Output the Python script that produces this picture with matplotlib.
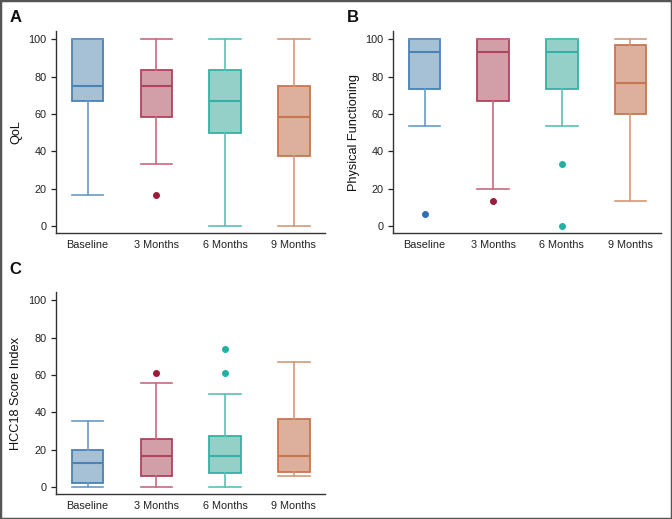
import matplotlib
matplotlib.use("Agg")
import matplotlib.pyplot as plt
from matplotlib.patches import Rectangle

plt.rcParams['font.family'] = ['Liberation Sans', 'DejaVu Sans']

categories = ["Baseline", "3 Months", "6 Months", "9 Months"]

# (whislo, q1, med, q3, whishi, outliers)
qol = [
    (16.7, 66.7, 75.0, 100.0, 100.0, []),
    (33.3, 58.3, 75.0, 83.3, 100.0, [16.7]),
    (0.0, 50.0, 66.7, 83.3, 100.0, []),
    (0.0, 37.5, 58.3, 75.0, 100.0, []),
]
physical = [
    (53.3, 73.3, 93.3, 100.0, 100.0, [6.7]),
    (20.0, 66.7, 93.3, 100.0, 100.0, [13.3]),
    (53.3, 73.3, 93.3, 100.0, 100.0, [33.3, 0.0]),
    (13.3, 60.0, 76.7, 96.7, 100.0, []),
]
hcc18 = [
    (0.0, 2.3, 13.0, 20.0, 35.4, []),
    (0.0, 6.0, 16.7, 25.6, 55.6, [61.1]),
    (0.0, 7.8, 16.7, 27.3, 50.0, [61.1, 74.0]),
    (5.8, 7.9, 16.7, 36.6, 66.7, []),
]

fills = ["#a6c1d5", "#d29ea7", "#94cfc8", "#dcb09c"]
edges = ["#4a82b5", "#b0435f", "#35b0a4", "#c6764f"]
whisk = ["#6a9bc6", "#c86a80", "#5cc0b5", "#d4987a"]
flier = ["#2f6fb0", "#9b1b3b", "#22b0a5", "#c6764f"]

fig = plt.figure(figsize=(6.72, 5.19), dpi=100)
fig.patches.append(Rectangle((0, 0), 1, 1, transform=fig.transFigure,
                             fill=False, edgecolor="#555555", linewidth=2.5, zorder=10))

def draw(ax, data, ylabel, label, label_y):
    for i, (lo, q1, med, q3, hi, fl) in enumerate(data):
        st = [dict(whislo=lo, q1=q1, med=med, q3=q3, whishi=hi, fliers=fl)]
        ax.bxp(st, positions=[i], widths=0.46, patch_artist=True,
               boxprops=dict(facecolor=fills[i], edgecolor=edges[i], linewidth=1.3),
               medianprops=dict(color=edges[i], linewidth=1.5),
               whiskerprops=dict(color=whisk[i], linewidth=1.2),
               capprops=dict(color=whisk[i], linewidth=1.2),
               capwidths=0.46,
               flierprops=dict(marker='o', markersize=4, markerfacecolor=flier[i],
                               markeredgecolor=flier[i]))
    ax.set_xlim(-0.46, 3.45)
    ax.set_ylim(-3.7, 104.3)
    ax.set_yticks([0, 20, 40, 60, 80, 100])
    ax.set_xticks(range(4))
    ax.set_xticklabels(categories)
    ax.tick_params(axis='x', length=0, labelsize=7.8, pad=5, colors="#222222")
    ax.tick_params(axis='y', length=3.5, width=0.9, labelsize=7.8, colors="#222222")
    for s in ["top", "right"]:
        ax.spines[s].set_visible(False)
    for s in ["left", "bottom"]:
        ax.spines[s].set_color("#333333")
        ax.spines[s].set_linewidth(1.0)
    ax.set_ylabel(ylabel, fontsize=9.2, color="#111111")
    ax.yaxis.label.set_va('center')
    ax.yaxis.set_label_coords(-0.147, 0.5)
    ax.text(-0.172, label_y, label, transform=ax.transAxes, fontsize=12,
            fontweight='bold', ha='left', va='center', color="#111111")

axA = fig.add_axes([0.0833, 0.551, 0.400, 0.389])
axB = fig.add_axes([0.585, 0.551, 0.399, 0.389])
axC = fig.add_axes([0.0833, 0.048, 0.400, 0.389])

draw(axA, qol, "QoL", "A", 1.07)
draw(axB, physical, "Physical Functioning", "B", 1.07)
draw(axC, hcc18, "HCC18 Score Index", "C", 1.11)

fig.savefig("out.png", dpi=100)
